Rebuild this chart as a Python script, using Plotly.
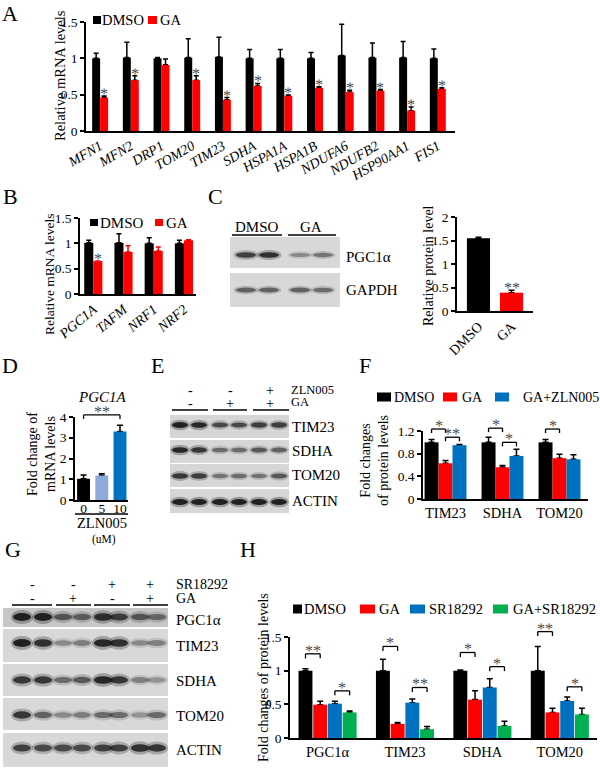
import plotly.graph_objects as go

# ======================= DATA =======================
# Panel A
genes_A = ["MFN1", "MFN2", "DRP1", "TOM20", "TIM23", "SDHA", "HSPA1A", "HSPA1B",
           "NDUFA6", "NDUFB2", "HSP90AA1", "FIS1"]
dmso_A = [1.00, 1.01, 1.00, 1.01, 1.02, 1.00, 1.00, 1.00, 1.04, 1.01, 1.01, 1.00]
dmso_A_sem = [0.07, 0.21, 0.01, 0.26, 0.27, 0.12, 0.12, 0.08, 0.43, 0.20, 0.22, 0.13]
ga_A = [0.46, 0.70, 0.91, 0.70, 0.43, 0.62, 0.485, 0.595, 0.535, 0.555, 0.28, 0.58]
ga_A_sem = [0.02, 0.06, 0.08, 0.06, 0.03, 0.035, 0.01, 0.015, 0.025, 0.015, 0.05, 0.015]
sig_A = ["*", "*", "", "*", "*", "*", "*", "*", "*", "*", "*", "*"]

# Panel B
genes_B = ["PGC1A", "TAFM", "NRF1", "NRF2"]
dmso_B = [1.01, 1.01, 1.00, 1.00]
dmso_B_sem = [0.05, 0.18, 0.11, 0.06]
ga_B = [0.65, 0.83, 0.85, 1.06]
ga_B_sem = [0.0, 0.12, 0.08, 0.01]
sig_B = ["*", "", "", ""]

# Panel C
groups_C = ["DMSO", "GA"]
protein_C = [1.55, 0.39]
protein_C_sem = [0.02, 0.05]
sig_C = ["", "**"]
blot_C = {"PGC1α": [0.75, 0.85, 0.35, 0.45], "GAPDH": [0.55, 0.55, 0.55, 0.5]}

# Panel D
dose_D = ["0", "5", "10"]
fold_D = [1.02, 1.18, 3.30]
fold_D_sem = [0.18, 0.08, 0.30]
sig_D = [("0", 0, "10", 0, 4.1, "**")]

# Panel E
zln_E = ["-", "-", "+"]
ga_E = ["-", "+", "+"]
blot_E = {"TIM23": [0.95, 0.9, 0.7, 0.7, 0.75, 0.75],
          "SDHA": [0.9, 0.8, 0.5, 0.5, 0.6, 0.55],
          "TOM20": [0.8, 0.75, 0.45, 0.5, 0.45, 0.6],
          "ACTIN": [0.95, 0.95, 0.95, 0.95, 0.95, 0.95]}

# Panel F
proteins_F = ["TIM23", "SDHA", "TOM20"]
series_F = ["DMSO", "GA", "GA+ZLN005"]
dmso_F = [1.00, 1.00, 1.00]
dmso_F_sem = [0.05, 0.09, 0.05]
ga_F = [0.63, 0.56, 0.72]
ga_F_sem = [0.05, 0.03, 0.07]
gaz_F = [0.95, 0.76, 0.70]
gaz_F_sem = [0.01, 0.12, 0.08]
sig_F = [("TIM23", 0, "TIM23", 1, 1.235, "*"), ("TIM23", 1, "TIM23", 2, 1.09, "**"),
         ("SDHA", 0, "SDHA", 1, 1.25, "*"), ("SDHA", 1, "SDHA", 2, 1.0, "*"),
         ("TOM20", 0, "TOM20", 1, 1.235, "*")]

# Panel G
sr_G = ["-", "-", "+", "+"]
ga_G = ["-", "+", "-", "+"]
blot_G = {"PGC1α": [0.95, 0.95, 0.6, 0.55, 0.85, 0.75, 0.6, 0.5],
          "TIM23": [0.95, 0.85, 0.35, 0.4, 0.9, 0.85, 0.35, 0.4],
          "SDHA": [0.8, 0.8, 0.5, 0.6, 0.9, 0.8, 0.4, 0.3],
          "TOM20": [0.8, 0.55, 0.35, 0.4, 0.5, 0.5, 0.3, 0.5],
          "ACTIN": [0.75, 0.7, 0.7, 0.7, 0.75, 0.75, 0.85, 0.8]}

# Panel H
proteins_H = ["PGC1α", "TIM23", "SDHA", "TOM20"]
series_H = ["DMSO", "GA", "SR18292", "GA+SR18292"]
dmso_H = [1.00, 1.00, 1.00, 1.00]
dmso_H_sem = [0.03, 0.17, 0.01, 0.36]
ga_H = [0.495, 0.21, 0.57, 0.38]
ga_H_sem = [0.05, 0.02, 0.13, 0.06]
sr_H = [0.51, 0.525, 0.75, 0.55]
sr_H_sem = [0.035, 0.055, 0.13, 0.06]
gasr_H = [0.38, 0.13, 0.18, 0.35]
gasr_H_sem = [0.02, 0.04, 0.07, 0.09]
sig_H = [("PGC1α", 0, "PGC1α", 1, 1.25, "**"), ("PGC1α", 2, "PGC1α", 3, 0.70, "*"),
         ("TIM23", 0, "TIM23", 1, 1.36, "*"), ("TIM23", 2, "TIM23", 3, 0.75, "**"),
         ("SDHA", 0, "SDHA", 1, 1.27, "*"), ("SDHA", 2, "SDHA", 3, 1.06, "*"),
         ("TOM20", 0, "TOM20", 1, 1.58, "**"), ("TOM20", 2, "TOM20", 3, 0.76, "*")]

# ======================= STYLE / LAYOUT =======================
W, H = 600, 769
FONT = "Liberation Serif, Times New Roman, serif"
BLACK, RED, BLUE, LBLUE, GREEN = "#000000", "#ff0000", "#0070c0", "#8eaadb", "#00b050"
STAR = "#4a4a4a"

PANELS = {
    "A": dict(idx=1, x=(86, 455), y=(131, 22), xr=(-0.46, 11.56), yr=(0, 1.5), tv=[0, 0.5, 1, 1.5]),
    "B": dict(idx=2, x=(80, 196), y=(294, 218), xr=(-0.44, 3.4), yr=(0, 1.5), tv=[0, 0.5, 1, 1.5]),
    "C": dict(idx=3, x=(457, 533), y=(311, 217), xr=(-0.65, 1.65), yr=(0, 2), tv=[0, 0.5, 1, 1.5, 2]),
    "D": dict(idx=4, x=(75, 128), y=(500, 417), xr=(-0.47, 2.44), yr=(0, 4), tv=[0, 1, 2, 3, 4]),
    "F": dict(idx=5, x=(423, 588), y=(499, 431), xr=(-0.395, 2.5), yr=(0, 1.2), tv=[0, 0.4, 0.8, 1.2]),
    "H": dict(idx=6, x=(290, 597), y=(738, 637), xr=(-0.485, 3.48), yr=(0, 1.5), tv=[0, 0.5, 1, 1.5]),
}

fig = go.Figure()
layout = {}
shapes = []
annots = []


def px2x(p):
    return p / W


def px2y(p):
    return 1 - p / H


def text(t, x, y, size=14, xa="center", ya="middle", color="black", angle=0,
         italic=False, xref="paper", yref="paper", yshift=0):
    if xref == "paper":
        x = px2x(x)
    if yref == "paper":
        y = px2y(y)
    annots.append(dict(text=t, x=x, y=y, xref=xref, yref=yref, xanchor=xa, yanchor=ya,
                       showarrow=False, textangle=angle, yshift=yshift, borderpad=0,
                       font=dict(family=FONT, size=size, color=color,
                                 style="italic" if italic else "normal")))


def pline(x0, y0, x1, y1, w=1.3, color="black"):
    shapes.append(dict(type="line", xref="paper", yref="paper", x0=px2x(x0), y0=px2y(y0),
                       x1=px2x(x1), y1=px2y(y1), line=dict(color=color, width=w)))


def make_axes(key, cats, xfont, angle=0, standoff=None):
    P = PANELS[key]
    s = "" if P["idx"] == 1 else str(P["idx"])
    xd = dict(
        domain=[px2x(P["x"][0]), px2x(P["x"][1])], anchor="y" + s, type="category",
        categoryorder="array", categoryarray=cats, range=list(P["xr"]),
        showline=True, linecolor="black", linewidth=1.5, ticks="", showgrid=False,
        zeroline=False, tickfont=xfont, tickangle=angle, fixedrange=True, automargin=False)
    if standoff is not None:
        xd["ticklabelstandoff"] = standoff
    layout["xaxis" + s] = xd
    layout["yaxis" + s] = dict(
        domain=[px2y(P["y"][0]), px2y(P["y"][1])], anchor="x" + s, range=list(P["yr"]),
        tickvals=P["tv"], showline=True, linecolor="black", linewidth=1.5,
        ticks="outside", ticklen=4, tickwidth=1.5, tickcolor="black", showgrid=False,
        zeroline=False, tickfont=dict(family=FONT, size=13.5, color="black"),
        fixedrange=True, automargin=False)
    return "x" + s, "y" + s


def bars(xa, ya, cats, vals, sems, color, width, offset, ecolor="black", ew=3):
    # error bars first (carried by a transparent bar), so the real bar hides the lower cap
    fig.add_trace(go.Bar(
        x=cats, y=vals, xaxis=xa, yaxis=ya, width=width, offset=offset,
        marker=dict(color="rgba(0,0,0,0)", line=dict(width=0)),
        error_y=dict(type="data", symmetric=False, array=sems, arrayminus=[0] * len(sems),
                     color=ecolor, thickness=1.5, width=ew),
        showlegend=False, hoverinfo="skip"))
    fig.add_trace(go.Bar(
        x=cats, y=vals, xaxis=xa, yaxis=ya, width=width, offset=offset,
        marker=dict(color=color, line=dict(width=0)),
        showlegend=False, hoverinfo="skip"))


def star_font():
    return dict(family=FONT, size=16, color=STAR)


def stars_on_bars(xa, ya, cats, vals, sems, sigs, center_off):
    for i, (v, e, s) in enumerate(zip(vals, sems, sigs)):
        if s:
            annots.append(dict(text=s, x=i + center_off, y=v + e, xref=xa, yref=ya,
                               xanchor="center", yanchor="bottom", showarrow=False,
                               yshift=-7, borderpad=0, textangle=0.2, font=star_font()))


def brackets(key, xa, ya, cats, sigs, centers, leg_px=4.5):
    P = PANELS[key]
    hpx = P["y"][0] - P["y"][1]
    ymax = P["yr"][1]
    leg = leg_px / hpx
    yref = ya + " domain"
    for ca, i, cb, j, level, lab in sigs:
        x0 = cats.index(ca) + centers[i]
        x1 = cats.index(cb) + centers[j]
        yd = level / ymax
        for (a, b, c0, d) in [(x0, yd, x1, yd), (x0, yd, x0, yd - leg), (x1, yd, x1, yd - leg)]:
            shapes.append(dict(type="line", xref=xa, yref=yref, x0=a, y0=b, x1=c0, y1=d,
                               line=dict(color="black", width=1.3)))
        annots.append(dict(text=lab, x=(x0 + x1) / 2, y=yd, xref=xa, yref=yref,
                           xanchor="center", yanchor="bottom", showarrow=False, yshift=-6,
                           borderpad=0, textangle=0.2, font=star_font()))


def legend(items, squares, text_x, yc, half_h, size):
    for (lab, col), (s0, s1), tx in zip(items, squares, text_x):
        shapes.append(dict(type="rect", xref="paper", yref="paper", x0=px2x(s0), x1=px2x(s1),
                           y0=px2y(yc + half_h), y1=px2y(yc - half_h),
                           fillcolor=col, line=dict(width=0)))
        text(lab, tx, yc, size=size, xa="left")


def blot(x0, x1, rows, band_y, lanes, data, bgs, bw, bh):
    for (yt, yb), yc, (name, vals), bg in zip(rows, band_y, data.items(), bgs):
        shapes.append(dict(type="rect", xref="paper", yref="paper", x0=px2x(x0), x1=px2x(x1),
                           y0=px2y(yb), y1=px2y(yt), fillcolor=bg, line=dict(width=0),
                           layer="below"))
        for lx, v in zip(lanes, vals):
            h = bh * (0.55 + 0.45 * v)
            shapes.append(dict(type="circle", xref="paper", yref="paper",
                               x0=px2x(lx - bw * 0.62), x1=px2x(lx + bw * 0.62),
                               y0=px2y(yc + h * 0.9), y1=px2y(yc - h * 0.9),
                               fillcolor="rgba(40,40,40,%.2f)" % (0.35 * v),
                               line=dict(width=0), layer="below"))
            shapes.append(dict(type="circle", xref="paper", yref="paper",
                               x0=px2x(lx - bw / 2), x1=px2x(lx + bw / 2),
                               y0=px2y(yc + h / 2), y1=px2y(yc - h / 2),
                               fillcolor="rgba(15,15,15,%.2f)" % (0.92 * v),
                               line=dict(width=0), layer="below"))


# ---------------- Panel A ----------------
xa, ya = make_axes("A", genes_A, dict(family=FONT, size=14, color="black", style="italic"), -30)
wA = 0.26
bars(xa, ya, genes_A, dmso_A, dmso_A_sem, BLACK, wA, -wA, ew=2.5)
bars(xa, ya, genes_A, ga_A, ga_A_sem, RED, wA, 0, ew=2.5)
stars_on_bars(xa, ya, genes_A, ga_A, ga_A_sem, sig_A, wA / 2)
legend([("DMSO", BLACK), ("GA", RED)], [(93, 101), (148, 157)], [101, 159], 20, 4, 14.5)
text("Relative mRNA levels", 60, 76, size=14.5, angle=-90)

# ---------------- Panel B ----------------
xa, ya = make_axes("B", genes_B, dict(family=FONT, size=14, color="black", style="italic"), -40)
wB = 0.30
bars(xa, ya, genes_B, dmso_B, dmso_B_sem, BLACK, wB, -wB, ew=2.5)
bars(xa, ya, genes_B, ga_B, ga_B_sem, RED, wB, 0, ecolor=RED, ew=2.5)
stars_on_bars(xa, ya, genes_B, ga_B, ga_B_sem, sig_B, wB / 2)
legend([("DMSO", BLACK), ("GA", RED)], [(90, 98), (155, 163)], [99, 165], 222.5, 3.5, 15)
text("Relative mRNA levels", 49, 275, size=13.5, angle=-90)

# ---------------- Panel C ----------------
blot(230, 340, [(237, 268), (273, 307)], [255, 290], [246, 269, 300, 323], blot_C,
     ["#d8d8d8", "#d8d8d8"], 20, 6)
text("DMSO", 257, 227, size=15)
text("GA", 311, 227, size=15)
pline(232, 235, 282, 235)
pline(288, 235, 336, 235)
text("PGC1α", 345, 257, size=15, xa="left")
text("GAPDH", 345, 290, size=15, xa="left")
xa, ya = make_axes("C", groups_C, dict(family=FONT, size=14, color="black"), -45)
bars(xa, ya, groups_C, protein_C, protein_C_sem, [BLACK, RED], 0.70, -0.35)
stars_on_bars(xa, ya, groups_C, protein_C, protein_C_sem, sig_C, 0)
text("Relative protein level", 428, 266, size=14, angle=-90)

# ---------------- Panel D ----------------
xa, ya = make_axes("D", dose_D, dict(family=FONT, size=13.5, color="black"), 0, standoff=-5)
bars(xa, ya, dose_D, fold_D, fold_D_sem, [BLACK, LBLUE, BLUE], 0.71, -0.355)
brackets("D", xa, ya, dose_D, sig_D, [0], leg_px=4)
text("PGC1A", 102, 397, size=15, italic=True)
pline(75, 514, 128, 514)
text("ZLN005", 102, 523, size=14.5)
text("(uM)", 104, 539, size=11.5)
text("Fold change of<br>mRNA levels", 41, 454, size=14, angle=-90)

# ---------------- Panel E ----------------
blot(170, 289, [(415, 438), (440, 463), (464, 487), (489, 513)], [425, 450, 476, 502],
     [180, 199, 220, 239, 259, 279], blot_E, ["#d6d6d6"] * 4, 16, 6)
for cx, s1, s2, (l0, l1) in zip([190, 230, 270], zln_E, ga_E, [(172, 208), (213, 247), (253, 289)]):
    text(s1, cx, 390, size=14)
    text(s2, cx, 403, size=14)
    pline(l0, 410, l1, 410)
text("ZLN005", 290, 390, size=12.5, xa="left")
text("GA", 290, 402, size=12.5, xa="left")
for name, yc in zip(blot_E.keys(), [427, 451, 475, 501]):
    text(name, 291, yc, size=15, xa="left")

# ---------------- Panel F ----------------
xa, ya = make_axes("F", proteins_F, dict(family=FONT, size=14.5, color="black"), 0)
wF = 0.245
offF = [-1.5 * wF, -0.5 * wF, 0.5 * wF]
for vals, sems, col, off in zip([dmso_F, ga_F, gaz_F], [dmso_F_sem, ga_F_sem, gaz_F_sem],
                                [BLACK, RED, BLUE], offF):
    bars(xa, ya, proteins_F, vals, sems, col, wF, off)
brackets("F", xa, ya, proteins_F, sig_F, [o + wF / 2 for o in offF], leg_px=4)
legend(list(zip(series_F, [BLACK, RED, BLUE])), [(377, 391), (443, 457), (495, 509)],
       [393, 461, 522], 397, 4.5, 14)
text("Fold changes<br>of protein levels", 374, 461, size=14, angle=-90)

# ---------------- Panel G ----------------
blot(3, 168, [(608, 627), (629, 662), (664, 696), (698, 730), (733, 767)],
     [617, 643, 680, 715, 748], [22, 43, 63, 82, 103, 119, 140, 157], blot_G,
     ["#c6c6c6", "#d8d8d8", "#d8d8d8", "#d8d8d8", "#d8d8d8"], 18, 8)
for cx, s1, s2, (l0, l1) in zip([32, 73, 112, 150], sr_G, ga_G,
                                [(12, 52), (56, 91), (94, 130), (133, 168)]):
    text(s1, cx, 584, size=14)
    text(s2, cx, 598, size=14)
    pline(l0, 605, l1, 605)
text("SR18292", 175, 584, size=14, xa="left")
text("GA", 175, 598, size=14, xa="left")
for name, yc in zip(blot_G.keys(), [620, 646, 681, 716, 750]):
    text(name, 175, yc, size=15, xa="left")

# ---------------- Panel H ----------------
xa, ya = make_axes("H", proteins_H, dict(family=FONT, size=14.5, color="black"), 0)
wH, stepH = 0.18, 0.19
offH = [(k - 1.5) * stepH - wH / 2 for k in range(4)]
for vals, sems, col, off in zip([dmso_H, ga_H, sr_H, gasr_H],
                                [dmso_H_sem, ga_H_sem, sr_H_sem, gasr_H_sem],
                                [BLACK, RED, BLUE, GREEN], offH):
    bars(xa, ya, proteins_H, vals, sems, col, wH, off)
brackets("H", xa, ya, proteins_H, sig_H, [o + wH / 2 for o in offH], leg_px=4.5)
legend(list(zip(series_H, [BLACK, RED, BLUE, GREEN])),
       [(293, 302), (360, 375), (410, 425), (493, 508)], [303, 378, 428, 512], 609, 4.5, 14.5)
text("Fold changes of protein levels", 263, 678, size=14, angle=-90)

# ---------------- Panel letters ----------------
for lab, x, y in [("A", 10, 13), ("B", 10, 197), ("C", 215, 197), ("D", 10, 365),
                  ("E", 157, 365), ("F", 365, 365), ("G", 13, 549), ("H", 248, 549)]:
    text(lab, x, y, size=22)

fig.update_layout(
    template="none",
    width=W, height=H, margin=dict(l=0, r=0, t=0, b=0, pad=0, autoexpand=False),
    paper_bgcolor="white", plot_bgcolor="white", barmode="overlay", showlegend=False,
    font=dict(family=FONT, color="black"), shapes=shapes, annotations=annots, **layout)

fig.write_html("out.html", config={"displayModeBar": False},
               post_script="document.body.style.margin='0px';document.body.style.overflow='hidden';")
